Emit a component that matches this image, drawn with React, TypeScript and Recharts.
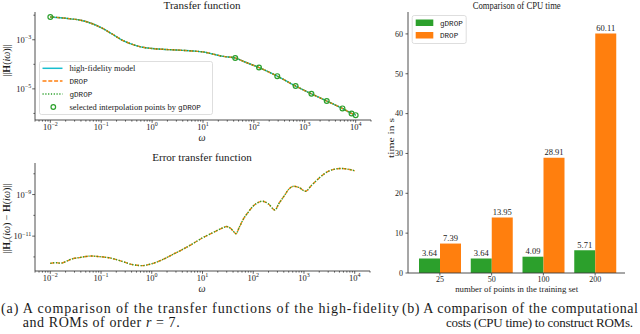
import React from 'react';
import {
  ComposedChart,
  Line,
  Scatter,
  XAxis,
  YAxis,
  BarChart,
  Bar,
  LabelList,
} from 'recharts';

const SERIF = '"Liberation Serif", "Times New Roman", serif';
const MONO = '"Liberation Mono", "DejaVu Sans Mono", monospace';
const INK = '#1a1a1a';
const SPINE = '#3a3a3a';
const CYAN = '#17becf';
const ORANGE = '#ff7f0e';
const GREEN = '#2ca02c';

// ---- (a) transfer function ||H(iw)|| ----
const tfOmega = [
  0.01, 0.0158, 0.0251, 0.0398, 0.0631, 0.1, 0.158, 0.251, 0.398, 0.631, 1, 1.58, 2.51, 3.98,
  6.31, 10, 15.8, 25.1, 43, 63, 126, 200, 288, 450, 660, 1000, 1350, 2000, 2700, 4000, 5500,
  8300, 10000,
];
const tfHighFidelity = [
  8.5e-3, 7.9e-3, 7.1e-3, 6.2e-3, 4.7e-3, 3.1e-3, 1.8e-3, 1.0e-3, 6.6e-4, 5.0e-4, 4.4e-4,
  4.1e-4, 3.9e-4, 3.7e-4, 3.5e-4, 3.2e-4, 2.6e-4, 2.1e-4, 1.8e-4, 1.3e-4, 7.4e-5, 4.8e-5,
  3.3e-5, 2.0e-5, 1.3e-5, 8.5e-6, 6.3e-6, 4.3e-6, 3.2e-6, 2.2e-6, 1.6e-6, 1.0e-6, 8.5e-7,
];
const tfDrop = tfHighFidelity;
const tfGdrop = tfHighFidelity;
const selectedOmega = [0.01, 43, 126, 288, 660, 1350, 2700, 5500, 8300, 10000];
const selectedValues = [8.5e-3, 1.8e-4, 7.4e-5, 3.3e-5, 1.3e-5, 6.3e-6, 3.2e-6, 1.6e-6, 1.0e-6, 8.5e-7];

// ---- (a) error transfer function ||H_r(iw) - H(iw)|| ----
const errOmega = [
  0.01, 0.0126, 0.0158, 0.02, 0.0251, 0.0398, 0.0631, 0.1, 0.158, 0.251, 0.398, 0.631, 1, 1.58,
  2.51, 3.98, 6.31, 10, 15.8, 25.1, 29.5, 35.5, 41.7, 45.7, 52.5, 63.1, 79.4, 100, 126, 151, 200,
  269, 316, 398, 501, 631, 794, 1072, 1413, 1995, 2818, 3981, 5495, 7943, 10000,
];
const errDrop = [
  4.9e-13, 5.3e-13, 5.0e-13, 5.9e-13, 7.6e-13, 9.5e-13, 1.1e-12, 1.02e-12, 8.7e-13, 6.3e-13,
  4.4e-13, 3.8e-13, 4.7e-13, 7.1e-13, 1.26e-12, 2.24e-12, 4.2e-12, 8.3e-12, 1.45e-11, 2.5e-11,
  2.9e-11, 2.4e-11, 1.6e-11, 1.3e-11, 2.5e-11, 6.3e-11, 1.4e-10, 2.8e-10, 4.2e-10, 4.8e-10,
  3.5e-10, 1.8e-10, 3.5e-10, 7.9e-10, 1.8e-9, 2.5e-9, 2.2e-9, 1.45e-9, 2.8e-9, 6.3e-9, 1.2e-8,
  1.66e-8, 1.8e-8, 1.6e-8, 1.4e-8,
];
const errGdrop = errDrop;

// ---- (b) CPU time ----
const trainingSizes = ['25', '50', '100', '200'];
const gdropCpu = [3.64, 3.64, 4.09, 5.71];
const dropCpu = [7.39, 13.95, 28.91, 60.11];
const cpuTicks = [0, 10, 20, 30, 40, 50, 60];

// ---- ticks ----
const omegaMajorTicks = [1e-2, 1e-1, 1, 10, 100, 1000, 10000];
const omegaTickExponents = ['−2', '−1', '0', '1', '2', '3', '4'];
const omegaMinorMultipliers = [2, 3, 4, 5, 6, 7, 8, 9];
const omegaMinorDecades = [1e-3, 1e-2, 1e-1, 1, 10, 100, 1000, 10000];
const tfMajorTicks = [1e-5, 1e-3];
const tfTickExponents = ['−5', '−3'];
const tfMinorTicks = [1e-6, 1e-4, 1e-2];
const errMajorTicks = [1e-11, 1e-9];
const errTickExponents = ['−11', '−9'];
const errMinorTicks = [1e-12, 1e-10, 1e-8];

const OMEGA_DOMAIN = [0.005, 20000];
const TF_DOMAIN = [5.4e-7, 1.35e-2];
const ERR_DOMAIN = [2.1e-13, 3.3e-8];

const omegaMinorTicks = omegaMinorDecades
  .flatMap((d) => omegaMinorMultipliers.map((m) => m * d))
  .filter((v) => v >= 0.00499 && v <= 20000.1);
const omegaTicks = [...omegaMajorTicks, ...omegaMinorTicks];

const tfData = tfOmega.map((w, i) => ({ w, h: tfHighFidelity[i] }));
const tfDropData = tfOmega.map((w, i) => ({ w, h: tfDrop[i] }));
const tfGdropData = tfOmega.map((w, i) => ({ w, h: tfGdrop[i] }));
const selData = selectedOmega.map((w, i) => ({ w, h: selectedValues[i] }));
const errDropData = errOmega.map((w, i) => ({ w, h: errDrop[i] }));
const errGdropData = errOmega.map((w, i) => ({ w, h: errGdrop[i] }));
const cpuData = trainingSizes.map((n, i) => ({ n, g: gdropCpu[i], d: dropCpu[i] }));

const LogXTick = (props: any) => {
  const { x, y, payload } = props;
  const i = omegaMajorTicks.indexOf(payload.value);
  const major = i >= 0;
  return (
    <g>
      <line x1={x} x2={x} y1={y} y2={y + (major ? 2.8 : 1.6)} stroke={SPINE} strokeWidth={0.8} />
      {major && (
        <text x={x} y={y + 9.8} textAnchor="middle" fontFamily={SERIF} fontSize={8.5} fill={INK}>
          10
          <tspan dy={-3.5} fontSize={6}>
            {omegaTickExponents[i]}
          </tspan>
        </text>
      )}
    </g>
  );
};

const makeLogYTick = (majors: number[], exps: string[]) => (props: any) => {
  const { x, y, payload } = props;
  const i = majors.indexOf(payload.value);
  const major = i >= 0;
  return (
    <g>
      <line x1={x} x2={x - (major ? 2.8 : 1.6)} y1={y} y2={y} stroke={SPINE} strokeWidth={0.8} />
      {major && (
        <text x={x - 3.8} y={y + 3} textAnchor="end" fontFamily={SERIF} fontSize={8.5} fill={INK}>
          10
          <tspan dy={-3.5} fontSize={6}>
            {exps[i]}
          </tspan>
        </text>
      )}
    </g>
  );
};

const tfYTick = makeLogYTick(tfMajorTicks, tfTickExponents);
const errYTick = makeLogYTick(errMajorTicks, errTickExponents);

const tfLegendNames = ['high-fidelity model', 'DROP', 'gDROP', 'selected interpolation points by ', 'gDROP'];
const cpuLegendNames = ['gDROP', 'DROP'];

const TfLegend = () => (
  <g transform="translate(39,61)">
    <rect x={0.5} y={0.5} width={173} height={53} rx={2} fill="#fff" fillOpacity={0.85} stroke="#d6d6d6" strokeWidth={0.8} />
    <line x1={3.5} x2={23.5} y1={7.3} y2={7.3} stroke={CYAN} strokeWidth={1.5} />
    <text x={30.5} y={10.3} fontFamily={SERIF} fontSize={8.5} fill={INK}>{tfLegendNames[0]}</text>
    <line x1={3.5} x2={23.5} y1={20} y2={20} stroke={ORANGE} strokeWidth={1.5} strokeDasharray="4 1.8" />
    <text x={30.5} y={23} fontFamily={MONO} fontSize={7.6} fill={INK}>{tfLegendNames[1]}</text>
    <line x1={3.5} x2={23.5} y1={33} y2={33} stroke={GREEN} strokeWidth={1.5} strokeDasharray="1.2 1.6" />
    <text x={30.5} y={36} fontFamily={MONO} fontSize={7.6} fill={INK}>{tfLegendNames[2]}</text>
    <circle cx={14.3} cy={46} r={2.3} fill="none" stroke={GREEN} strokeWidth={1.2} />
    <text x={30.5} y={49} fontFamily={SERIF} fontSize={8.5} fill={INK}>
      {tfLegendNames[3]}
      <tspan fontFamily={MONO} fontSize={7.6}>{tfLegendNames[4]}</tspan>
    </text>
  </g>
);

const CpuLegend = () => (
  <g transform="translate(411.7,15)">
    <rect x={0.5} y={0.5} width={54} height={28} rx={2} fill="#fff" fillOpacity={0.85} stroke="#d6d6d6" strokeWidth={0.8} />
    <rect x={4} y={4.5} width={17.6} height={6.5} fill={GREEN} />
    <text x={28.3} y={10.6} fontFamily={MONO} fontSize={7.6} fill={INK}>{cpuLegendNames[0]}</text>
    <rect x={4} y={17} width={17.6} height={6.5} fill={ORANGE} />
    <text x={28.3} y={23} fontFamily={MONO} fontSize={7.6} fill={INK}>{cpuLegendNames[1]}</text>
  </g>
);

const frameAxes = [
  <XAxis key="ft" xAxisId="frameTop" orientation="top" type="number" domain={[0, 1]} height={0} tick={false} tickLine={false} axisLine={{ stroke: SPINE, strokeWidth: 0.9 }} />,
  <YAxis key="fr" yAxisId="frameRight" orientation="right" type="number" domain={[0, 1]} width={0} tick={false} tickLine={false} axisLine={{ stroke: SPINE, strokeWidth: 0.9 }} />,
];

const textStyle = { fontFamily: SERIF, fill: INK } as const;

export default function App() {
  return (
    <div style={{ position: 'absolute', left: 0, top: 0, width: 640, height: 334, background: '#fff', overflow: 'hidden' }}>
      {/* Transfer function */}
      <div style={{ position: 'absolute', left: 0, top: 0 }}>
        <ComposedChart width={380} height={140} margin={{ top: 12, right: 9, bottom: 0, left: 0 }}>
          <XAxis
            dataKey="w"
            type="number"
            scale="log"
            domain={OMEGA_DOMAIN}
            allowDataOverflow
            ticks={omegaTicks}
            interval={0}
            tick={LogXTick}
            tickLine={false}
            tickSize={0}
            tickMargin={0}
            height={20}
            axisLine={{ stroke: SPINE, strokeWidth: 0.9 }}
          />
          <YAxis
            dataKey="h"
            type="number"
            scale="log"
            domain={TF_DOMAIN}
            allowDataOverflow
            ticks={[...tfMajorTicks, ...tfMinorTicks]}
            interval={0}
            tick={tfYTick}
            tickLine={false}
            tickSize={0}
            tickMargin={0}
            width={35}
            axisLine={{ stroke: SPINE, strokeWidth: 0.9 }}
          />
          {frameAxes}
          <Line data={tfData} dataKey="h" type="monotone" stroke={CYAN} strokeWidth={1.4} dot={false} isAnimationActive={false} />
          <Line data={tfDropData} dataKey="h" type="monotone" stroke={ORANGE} strokeWidth={1.4} strokeDasharray="4 1.8" dot={false} isAnimationActive={false} />
          <Line data={tfGdropData} dataKey="h" type="monotone" stroke={GREEN} strokeWidth={1.4} strokeDasharray="1.2 1.6" dot={false} isAnimationActive={false} />
          <Scatter
            data={selData}
            dataKey="h"
            isAnimationActive={false}
            shape={(p: any) => <circle cx={p.cx} cy={p.cy} r={2.4} fill="none" stroke={GREEN} strokeWidth={1.2} />}
          />
        </ComposedChart>
      </div>

      {/* Error transfer function */}
      <div style={{ position: 'absolute', left: 0, top: 150 }}>
        <ComposedChart width={380} height={141} margin={{ top: 13, right: 10, bottom: 0, left: 0 }}>
          <XAxis
            dataKey="w"
            type="number"
            scale="log"
            domain={OMEGA_DOMAIN}
            allowDataOverflow
            ticks={omegaTicks}
            interval={0}
            tick={LogXTick}
            tickLine={false}
            tickSize={0}
            tickMargin={0}
            height={20}
            axisLine={{ stroke: SPINE, strokeWidth: 0.9 }}
          />
          <YAxis
            dataKey="h"
            type="number"
            scale="log"
            domain={ERR_DOMAIN}
            allowDataOverflow
            ticks={[...errMajorTicks, ...errMinorTicks]}
            interval={0}
            tick={errYTick}
            tickLine={false}
            tickSize={0}
            tickMargin={0}
            width={35}
            axisLine={{ stroke: SPINE, strokeWidth: 0.9 }}
          />
          {frameAxes}
          <Line data={errDropData} dataKey="h" type="monotone" stroke={ORANGE} strokeWidth={1.4} strokeDasharray="4 1.8" dot={false} isAnimationActive={false} />
          <Line data={errGdropData} dataKey="h" type="monotone" stroke={GREEN} strokeWidth={1.4} strokeDasharray="1.2 1.6" dot={false} isAnimationActive={false} />
        </ComposedChart>
      </div>

      {/* CPU time bars */}
      <div style={{ position: 'absolute', left: 370, top: 0 }}>
        <BarChart width={270} height={295} data={cpuData} margin={{ top: 12, right: 15, bottom: 0, left: 0 }} barGap={0} barSize={21}>
          <XAxis
            dataKey="n"
            padding={{ left: 6, right: 4 }}
            height={22}
            interval={0}
            tick={{ fontSize: 8, fontFamily: SERIF, fill: INK }}
            tickSize={2.5}
            tickMargin={1}
            tickLine={{ stroke: SPINE, strokeWidth: 0.8 }}
            axisLine={{ stroke: SPINE, strokeWidth: 0.9 }}
          />
          <YAxis
            type="number"
            domain={[0, 65.5]}
            ticks={cpuTicks}
            interval={0}
            width={38}
            tick={{ fontSize: 8, fontFamily: SERIF, fill: INK }}
            tickSize={2.5}
            tickMargin={2.5}
            tickLine={{ stroke: SPINE, strokeWidth: 0.8 }}
            axisLine={{ stroke: SPINE, strokeWidth: 0.9 }}
          />
          {frameAxes}
          <Bar dataKey="g" fill={GREEN} isAnimationActive={false}>
            <LabelList dataKey="g" position="top" offset={2.5} style={{ fontSize: 8.5, fontFamily: SERIF, fill: INK }} formatter={(v: any) => Number(v).toFixed(2)} />
          </Bar>
          <Bar dataKey="d" fill={ORANGE} isAnimationActive={false}>
            <LabelList dataKey="d" position="top" offset={2.5} style={{ fontSize: 8.5, fontFamily: SERIF, fill: INK }} formatter={(v: any) => Number(v).toFixed(2)} />
          </Bar>
        </BarChart>
      </div>

      {/* titles, axis labels, legends, captions */}
      <svg width={640} height={334} style={{ position: 'absolute', left: 0, top: 0, pointerEvents: 'none' }}>
        <text x={202} y={9} textAnchor="middle" fontSize={11} textLength={77} lengthAdjust="spacingAndGlyphs" {...textStyle}>Transfer function</text>
        <text x={202} y={161} textAnchor="middle" fontSize={11} textLength={99.6} lengthAdjust="spacingAndGlyphs" {...textStyle}>Error transfer function</text>
        <text x={516.7} y={9.3} textAnchor="middle" fontSize={9.5} textLength={88} lengthAdjust="spacingAndGlyphs" {...textStyle}>Comparison of CPU time</text>

        <text x={202} y={141} textAnchor="middle" fontSize={10} fontStyle="italic" {...textStyle}>ω</text>
        <text x={202} y={292.3} textAnchor="middle" fontSize={10} fontStyle="italic" {...textStyle}>ω</text>
        <text x={516.7} y={291.5} textAnchor="middle" fontSize={9} textLength={123} lengthAdjust="spacingAndGlyphs" {...textStyle}>number of points in the training set</text>

        <text transform="translate(10.2,60.5) rotate(-90)" textAnchor="middle" fontSize={10} {...textStyle}>
          ||<tspan fontWeight="bold">H</tspan>(<tspan fontStyle="italic">iω</tspan>)||
        </text>
        <text transform="translate(10.2,218.7) rotate(-90)" textAnchor="middle" fontSize={10} {...textStyle}>
          ||<tspan fontWeight="bold">H</tspan>
          <tspan fontStyle="italic" fontSize={7} dy={2}>r</tspan>
          <tspan dy={-2}>(</tspan>
          <tspan fontStyle="italic">iω</tspan>) − <tspan fontWeight="bold">H</tspan>(<tspan fontStyle="italic">iω</tspan>)||
        </text>
        <text transform="translate(393.5,138) rotate(-90)" textAnchor="middle" fontSize={9} textLength={40} lengthAdjust="spacingAndGlyphs" {...textStyle}>time in s</text>

        <TfLegend />
        <CpuLegend />

        <text x={1} y={312.7} fontSize={14} textLength={398} lengthAdjust="spacing" {...textStyle}>(a) A comparison of the transfer functions of the high-fidelity</text>
        <text x={22.7} y={326.7} fontSize={14} textLength={157} lengthAdjust="spacing" {...textStyle}>
          and ROMs of order <tspan fontStyle="italic">r</tspan> = 7.
        </text>
        <text x={402} y={312.7} fontSize={14} textLength={236} lengthAdjust="spacing" {...textStyle}>(b) A comparison of the computational</text>
        <text x={446} y={326.7} fontSize={13} textLength={187} lengthAdjust="spacing" {...textStyle}>costs (CPU time) to construct ROMs.</text>
      </svg>
    </div>
  );
}
